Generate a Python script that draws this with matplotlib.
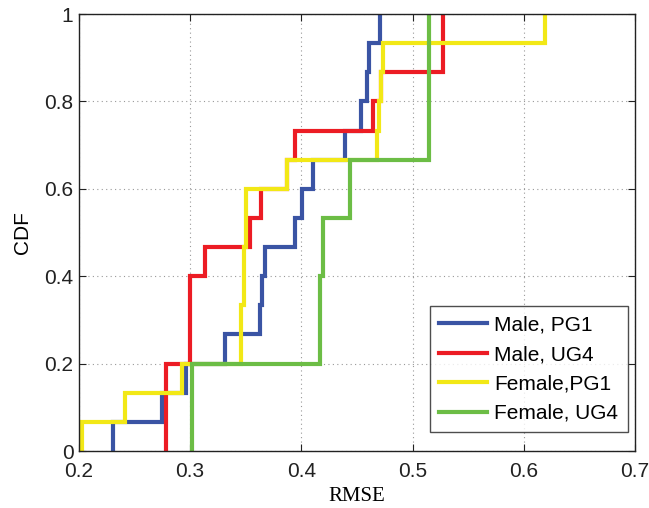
import numpy as np
import matplotlib
matplotlib.use("Agg")
import matplotlib.pyplot as plt

# RMSE samples (15 samples per group)
male_pg1 = [0.2305, 0.275, 0.296, 0.331, 0.363, 0.365, 0.367, 0.394,
            0.401, 0.410, 0.439, 0.454, 0.459, 0.461, 0.471]
male_ug4 = [0.278, 0.278, 0.278, 0.300, 0.300, 0.300, 0.313, 0.354,
            0.364, 0.387, 0.394, 0.464, 0.472, 0.527, 0.527]
female_pg1 = [0.203, 0.241, 0.293, 0.346, 0.346, 0.348, 0.348, 0.350,
              0.350, 0.387, 0.468, 0.470, 0.472, 0.473, 0.619]
female_ug4 = [0.302, 0.302, 0.302, 0.417, 0.417, 0.417, 0.419, 0.419,
              0.444, 0.444, 0.515, 0.515, 0.515, 0.515, 0.515]

labels = ["Male, PG1", "Male, UG4", "Female,PG1", "Female, UG4"]
colors = ["#3a54a4", "#ec1c24", "#f2e816", "#6cbd45"]
xticks = [0.2, 0.3, 0.4, 0.5, 0.6, 0.7]
yticks = [0, 0.2, 0.4, 0.6, 0.8, 1]

plt.rcParams["font.family"] = ["Liberation Sans", "DejaVu Sans"]

fig = plt.figure(figsize=(6.49, 5.08), dpi=100)
ax = fig.add_axes([0.1217, 0.1122, 0.8567, 0.8602])


def ecdf(samples):
    s = np.sort(np.asarray(samples))
    n = len(s)
    x = np.r_[s[0], s]
    y = np.r_[0, np.arange(1, n + 1) / n]
    return x, y


for data, lab, col in zip([male_pg1, male_ug4, female_pg1, female_ug4], labels, colors):
    x, y = ecdf(data)
    ax.step(x, y, where="post", color=col, lw=3, label=lab, solid_joinstyle="miter")

ax.set_xlim(0.2, 0.7)
ax.set_ylim(0, 1)
ax.set_xticks(xticks)
ax.set_yticks(yticks)
ax.set_xticklabels([f"{t:g}" for t in xticks])
ax.set_yticklabels([f"{t:g}" for t in yticks])
ax.tick_params(direction="in", top=True, right=True, length=5, width=0.8,
               labelsize=15, colors="#222222")
ax.tick_params(axis="x", pad=8)
ax.tick_params(axis="y", pad=4)
ax.grid(True, linestyle=(0, (1, 3)), color="#999999", linewidth=0.8)
for sp in ax.spines.values():
    sp.set_linewidth(1.0)
    sp.set_color("#222222")

ax.set_xlabel("RMSE", family=["Liberation Serif", "DejaVu Serif"], fontsize=15, labelpad=4)
ax.set_ylabel("CDF", fontsize=15, labelpad=9)

leg = ax.legend(loc="lower right", bbox_to_anchor=(0.987, 0.043), fontsize=15,
                frameon=True, fancybox=False, edgecolor="#222222",
                handlelength=2.3, handletextpad=0.35, borderaxespad=0,
                labelspacing=0.5, borderpad=0.45)
leg.get_frame().set_linewidth(1.0)

fig.savefig("out.png", dpi=100)
